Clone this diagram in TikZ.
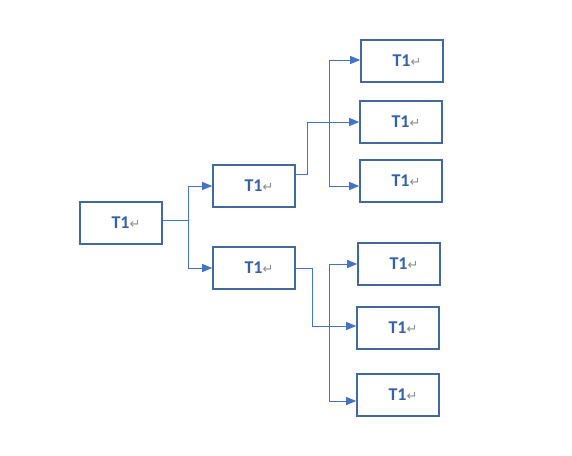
\documentclass[tikz,border=0pt]{standalone}
\usepackage{fontspec}
\usepackage{xcolor}
\usetikzlibrary{arrows.meta}
\setmainfont{Carlito}
\newfontfamily\symfont{DejaVu Sans}
\definecolor{boxblue}{HTML}{41689F}
\definecolor{lineblue}{HTML}{4472C4}
\definecolor{txtblue}{HTML}{3561A8}
\definecolor{markgrey}{HTML}{8C8C8C}
\newcommand{\tlabel}{\hspace{10pt}\textbf{T1}{\symfont\fontsize{13}{15}\selectfont\color{markgrey}↵}}

\begin{document}
\begin{tikzpicture}[x=1pt, y=-1pt,
          bx/.style={draw=boxblue, line width=1.6pt, minimum width=82pt, minimum height=42pt,
                     inner sep=0pt, text=txtblue, font=\fontsize{18}{21}\selectfont},
          ar/.style={lineblue, line width=1pt, -{Triangle[length=10pt, width=8pt]}},
          ln/.style={lineblue, line width=1pt}
        ]
        \useasboundingbox (0,0) rectangle (572,455);
        % boxes
        \node[bx] (r) at (121,223) {\tlabel};
        \node[bx] (m1) at (254,186) {\tlabel};
        \node[bx] (m2) at (254,268) {\tlabel};
        \node[bx] (b1) at (402,61) {\tlabel};
        \node[bx] (b2) at (401,122) {\tlabel};
        \node[bx] (b3) at (401,181) {\tlabel};
        \node[bx] (b4) at (399,264) {\tlabel};
        \node[bx] (b5) at (398,328) {\tlabel};
        \node[bx] (b6) at (398,395) {\tlabel};

        % first split
        \coordinate (j0) at (188,220);
        \draw[ln] ([yshift=3pt]r.east) -- (j0);
        \draw[ar] (j0) |- (m1);
        \draw[ar] (j0) |- (m2);

        % upper group
        \draw[ar] ([yshift=12pt]m1.east) -- ++(12,0) |- (b2);
        \coordinate (v1) at (329,122);
        \draw[ar] (v1) |- ([yshift=1pt]b1.west);
        \draw[ar] (v1) |- ([yshift=-5pt]b3.west);

        % lower group
        \draw[ar] (m2.east) -- ++(17,0) |- ([yshift=2pt]b5.west);
        \coordinate (v2) at (329,326);
        \draw[ar] (v2) |- (b4);
        \draw[ar] (v2) |- ([yshift=-6pt]b6.west);
      \end{tikzpicture}
\end{document}
